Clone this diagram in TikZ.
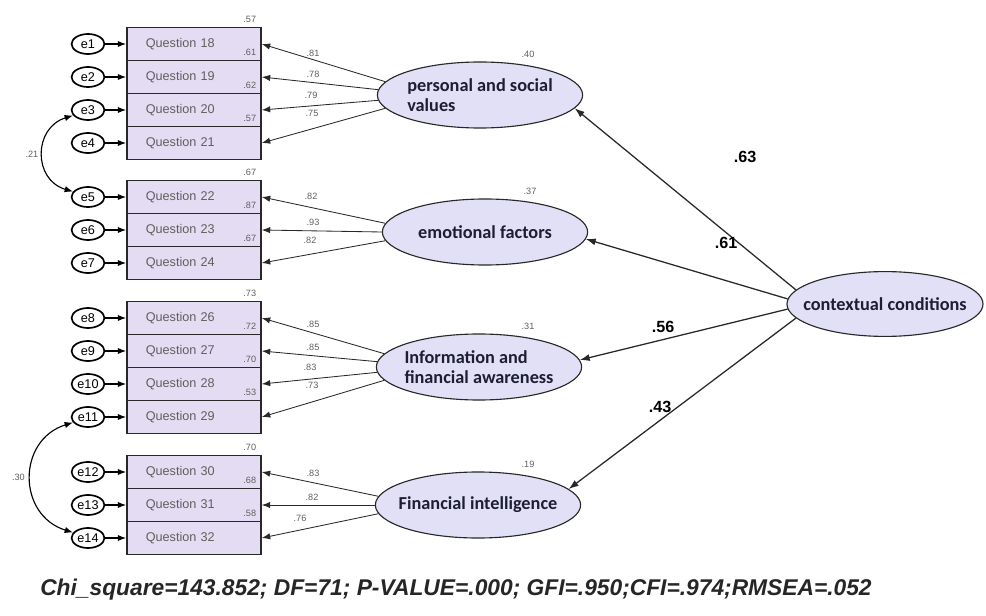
\documentclass[tikz,border=0pt]{standalone}
\usepackage{fontspec}
\setmainfont{Liberation Sans}
\newfontfamily\latfont{Carlito}
\usetikzlibrary{arrows.meta,shapes.geometric}

\definecolor{boxfill}{RGB}{228,220,242}
\definecolor{latfill}{RGB}{226,224,246}
\definecolor{edgegray}{RGB}{40,40,40}
\definecolor{numgray}{RGB}{95,95,95}
\definecolor{lattext}{RGB}{30,30,50}

\tikzset{
  item/.style={draw=edgegray, line width=1.1pt, fill=boxfill, minimum width=3.35cm,
    minimum height=0.825cm, inner xsep=0.47cm, text width=2.41cm, align=left,
    font=\fontsize{9}{10}\selectfont, text=numgray},
  err/.style={ellipse, draw=black, line width=1.2pt, fill=white, minimum width=0.82cm,
    minimum height=0.5cm, inner sep=0pt, font=\fontsize{9}{10}\selectfont},
  latent/.style={ellipse, draw=edgegray, line width=0.8pt, fill=latfill, minimum width=5.13cm,
    minimum height=1.65cm, inner xsep=-0.45cm, inner ysep=0pt, align=left,
    font=\latfont\bfseries\fontsize{13}{14}\selectfont, text=lattext},
  small/.style={font=\fontsize{6.5}{7}\selectfont, text=numgray, inner sep=0pt},
  coef/.style={font=\bfseries\fontsize{11.5}{13}\selectfont, inner sep=0pt},
  regpath/.style={-{Latex[length=7pt,width=5pt]}, line width=0.9pt, draw=edgegray},
  loadpath/.style={-{Latex[length=6pt,width=4.5pt]}, line width=0.6pt, draw=edgegray},
  errpath/.style={-{Latex[length=6pt,width=4.5pt]}, line width=0.9pt, draw=black},
  corrpath/.style={{Latex[length=6pt,width=4.5pt]}-{Latex[length=6pt,width=4.5pt]}, line width=0.8pt},
}

\begin{document}
\begin{tikzpicture}[x=0.025cm, y=-0.025cm]
    \useasboundingbox[fill=white] (0,0) rectangle (986,616);

    % Observed items with their error terms
    \foreach \i/\n/\y/\r in {1/18/44/.57, 2/19/77/.61, 3/20/110/.62, 4/21/143/.57,
                             5/22/197/.67, 6/23/230/.87, 7/24/263/.67,
                             8/26/318/.73, 9/27/351/.72, 10/28/384/.70, 11/29/417/.53,
                             12/30/472/.70, 13/31/505/.68, 14/32/538/.58} {
        \node[item] (q\n) at (194,\y) {Question \n};
        \node[err] (e\i) at (88,\y) {e\i};
        \draw[errpath] (e\i) -- (q\n);
        \node[small] (r\n) at ([shift={(-12,-7)}]q\n.north east) {\r};
    }

    % Latent factors
    \node[latent] (pers) at (480,95) {personal and social\\values};
    \node[latent] (emo) at (485,232) {emotional factors};
    \node[latent] (info) at (479,367) {Information and\\financial awareness};
    \node[latent] (fin) at (478,505) {Financial intelligence};
    \node[latent, minimum width=4.9cm, minimum height=1.62cm] (ctx) at (885,304) {contextual conditions};

    \node[small] (rpers) at ([shift={(48,-7)}]pers.north) {.40};
    \node[small] (remo) at ([shift={(45,-7)}]emo.north) {.37};
    \node[small] (rinfo) at ([shift={(49,-7)}]info.north) {.31};
    \node[small] (rfin) at ([shift={(50,-7)}]fin.north) {.19};

    % Loadings
    \foreach \lat/\a/\n/\v/\lx/\ly in {pers/172/18/.81/313/53, pers/177/19/.78/313/74,
                                       pers/183/20/.79/311/95, pers/188/21/.75/312/113,
                                       emo/175/22/.82/311/196, emo/180/23/.93/313/222,
                                       emo/185/24/.82/310/240,
                                       info/172/26/.85/313/324, info/177/27/.85/313/347,
                                       info/183/28/.83/310/367, info/188/29/.73/312/385,
                                       fin/175/30/.83/313/473, fin/180/31/.82/312/497,
                                       fin/185/32/.76/300/518} {
        \draw[loadpath] (\lat.\a) -- (q\n.east);
        \node[small] (l\n) at (\lx,\ly) {\v};
    }

    % Second order paths
    \draw[regpath] (ctx.171) -- (pers.-8);
    \draw[regpath] (ctx.177) -- (emo.-4);
    \draw[regpath] (ctx.183) -- (info.4);
    \draw[regpath] (ctx.189) -- (fin.10);
    \node[coef] (cpers) at (745,157) {.63};
    \node[coef] (cemo) at (726,243) {.61};
    \node[coef] (cinfo) at (663,327) {.56};
    \node[coef] (cfin) at (660,407) {.43};

    % Error covariances
    \draw[corrpath] (e3.200) .. controls (33,128) and (33,180) .. (e5.160)
        node[small, pos=0.5, left=3pt] (c35) {.21};
    \draw[corrpath] (e11.200) .. controls (17,440) and (17,515) .. (e14.160)
        node[small, pos=0.5, left=4pt] (c1114) {.30};

    % Fit indices
    \node[font=\bfseries\itshape\fontsize{16.2}{18}\selectfont, text=black!85] (fit) at (456,590)
        {Chi\_square=143.852; DF=71; P-VALUE=.000; GFI=.950;CFI=.974;RMSEA=.052};
\end{tikzpicture}
\end{document}
